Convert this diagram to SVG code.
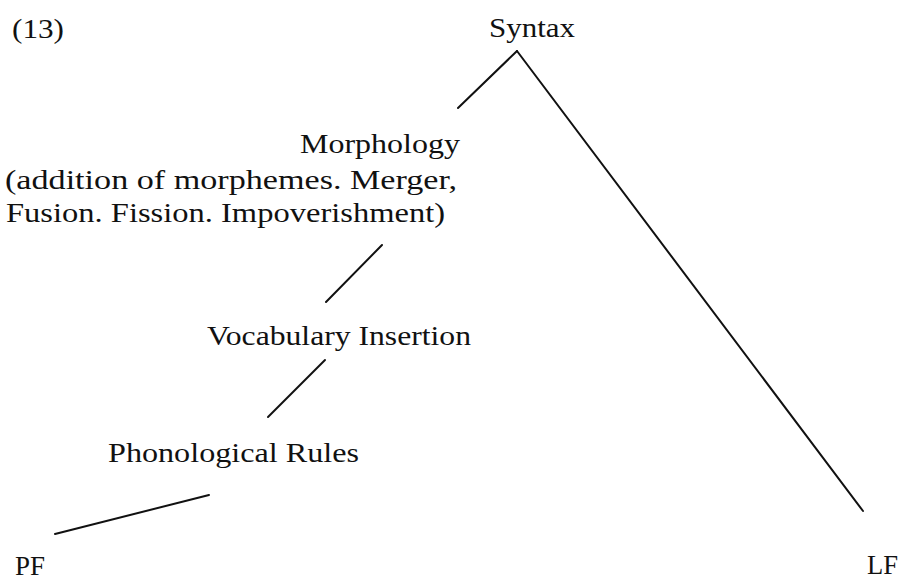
<svg xmlns="http://www.w3.org/2000/svg" width="903" height="581" viewBox="0 0 903 581">
  <style>
    .t { font-family: 'Liberation Serif', 'Times New Roman', Times, serif; font-size: 28px; fill: #111; }
    .edge { stroke: #111; stroke-width: 2; fill: none; stroke-linecap: round; }
  </style>
  <rect width="903" height="581" fill="#fff"/>
  <g font-family="Liberation Serif, Times New Roman, serif">
  <g id="label-13">
    <text class="t" x="12" y="38" font-size="26" textLength="52" lengthAdjust="spacingAndGlyphs">(13)</text>
  </g>
  <g id="node-syntax">
    <text class="t" x="489" y="37" textLength="86" lengthAdjust="spacingAndGlyphs">Syntax</text>
  </g>
  <g id="node-morphology">
    <text class="t" x="300" y="153" textLength="160" lengthAdjust="spacingAndGlyphs">Morphology</text>
    <text class="t" x="5" y="189" textLength="452" lengthAdjust="spacingAndGlyphs">(addition of morphemes. Merger,</text>
    <text class="t" x="6" y="222" textLength="439" lengthAdjust="spacingAndGlyphs">Fusion. Fission. Impoverishment)</text>
  </g>
  <g id="node-vocabulary">
    <text class="t" x="207" y="345" textLength="264" lengthAdjust="spacingAndGlyphs">Vocabulary Insertion</text>
  </g>
  <g id="node-phonological">
    <text class="t" x="108" y="462" textLength="251" lengthAdjust="spacingAndGlyphs">Phonological Rules</text>
  </g>
  <g id="node-pf">
    <text class="t" x="15" y="575" textLength="30" lengthAdjust="spacingAndGlyphs">PF</text>
  </g>
  <g id="node-lf">
    <text class="t" x="867" y="574" textLength="31" lengthAdjust="spacingAndGlyphs">LF</text>
  </g>
  </g>
  <g id="connectors">
    <line class="edge" x1="517" y1="51" x2="458" y2="108"/>
    <line class="edge" x1="517" y1="51" x2="863" y2="511"/>
    <line class="edge" x1="382" y1="245" x2="326" y2="302"/>
    <line class="edge" x1="325" y1="360" x2="268" y2="417"/>
    <line class="edge" x1="209" y1="495" x2="55" y2="534"/>
  </g>
</svg>
